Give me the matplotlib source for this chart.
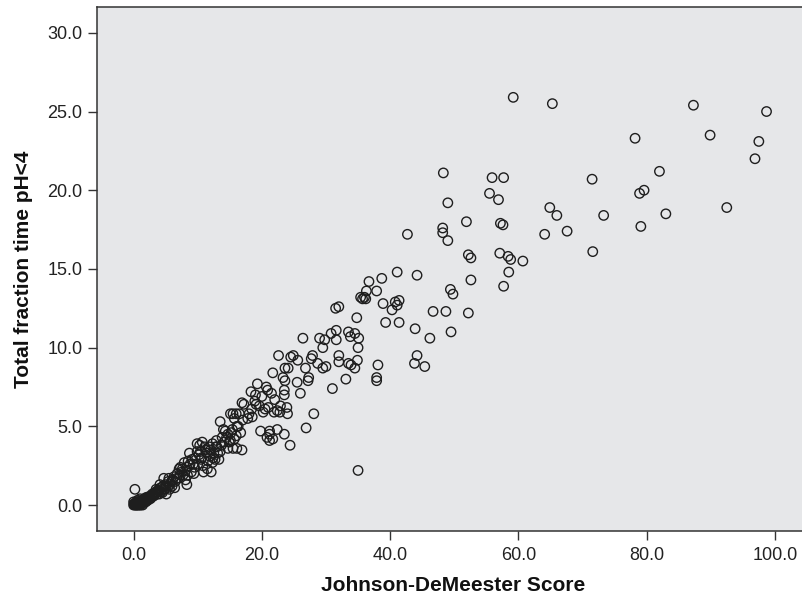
import matplotlib
matplotlib.use("Agg")
import matplotlib.pyplot as plt

plt.rcParams['font.family'] = ['Liberation Sans', 'DejaVu Sans']

# Johnson-DeMeester score vs total fraction time pH<4
jdm_score = [
    59.2, 65.3, 87.3, 98.7, 78.2, 89.9, 97.5, 96.9, 48.3, 55.9, 57.7, 71.5, 82.0,
    55.5, 56.9, 49.0, 78.9, 79.6, 92.5, 64.9, 66.0, 73.3, 83.0, 51.9, 57.2, 57.6,
    67.6, 79.1, 64.1, 42.7, 48.2, 48.2, 49.0, 71.6, 52.2, 52.6, 57.1, 58.4, 58.8,
    60.7, 58.5, 41.1, 44.2, 38.7, 52.6, 36.7, 57.7, 37.9, 36.3, 49.4, 49.8, 35.4,
    35.7, 36.0, 36.2, 41.4, 40.8, 41.1, 38.9, 40.3, 31.5, 32.0, 46.7, 48.7, 52.2,
    34.8, 39.3, 41.4, 43.9, 31.6, 30.8, 33.5, 34.5, 49.5, 26.4, 31.6, 33.8, 35.1,
    46.2, 29.0, 29.8, 29.5, 35.0, 22.6, 24.9, 24.5, 27.9, 32.0, 44.2, 25.6, 27.7,
    32.0, 34.9, 33.5, 33.9, 43.8, 38.1, 45.4, 28.7, 29.5, 30.0, 26.8, 23.6, 34.5,
    21.7, 24.1, 27.3, 33.1, 37.9, 37.9, 23.6, 27.2, 25.5, 23.3, 31.0, 19.3, 20.7,
    20.9, 23.5, 23.5, 26.0, 18.3, 20.0, 22.0, 16.9, 17.2, 19.1, 18.4, 21.0, 22.9,
    23.9, 21.9, 22.4, 22.8, 15.1, 15.5, 16.0, 16.5, 18.0, 20.2, 24.0, 28.1, 17.8,
    15.7, 13.5, 16.3, 26.9, 19.8, 21.2, 22.4, 23.5, 21.2, 20.8, 21.2, 21.7, 24.4,
    35.0, 0.2, 18.9, 19.6, 20.5, 17.0, 18.5, 19.0, 21.5,
    14.3, 14.7, 15.2, 16.1, 15.7, 14.1, 12.9, 12.3, 14.7, 15.5, 16.1, 16.9, 13.5,
    11.9, 12.7, 12.3, 11.5, 10.9, 12.1, 10.3, 9.9, 10.7, 11.1, 9.9, 8.7, 9.1,
    7.9, 8.3, 7.1, 7.5, 8.4, 8.3, 6.3, 5.5, 4.7, 5.1, 5.9, 4.1, 3.5, 5.1, 4.3,
    3.1, 2.3, 13.0, 13.8, 11.4, 10.5, 10.0, 9.5, 9.0, 8.8, 7.7, 7.0, 6.8, 6.5,
    6.0, 5.6, 4.8, 4.5, 4.0, 3.7, 3.3, 2.8, 2.6, 2.0, 1.8, 1.5, 1.2, 1.0, 0.8,
    0.6, 0.4, 0.2, 0.0, 0.1, 0.3, 0.5, 0.7, 0.9, 1.1, 1.3, 1.6, 1.9, 2.2, 2.4,
    1.4, 0.0, 0.6, 1.0, 12.0, 10.2, 14.9, 13.3, 12.5,
    0.1, 0.2, 0.3, 0.4, 0.5, 0.6, 0.7, 0.8, 0.9, 1.0, 1.1, 1.2, 1.3, 1.5, 1.6,
    1.7, 1.8, 2.0, 2.1, 2.3, 2.5, 2.7, 2.9, 3.0, 3.2, 3.4, 3.6, 3.8, 4.0, 4.2,
    4.4, 4.6, 5.0, 5.3, 5.4, 5.7, 6.1, 6.4, 6.7, 7.3, 7.6, 8.1, 8.5, 9.3, 9.6,
    10.4, 10.8, 11.2, 11.8, 12.4, 13.1, 13.7, 14.5, 15.1, 15.4, 16.0, 16.7, 14.0,
    12.8, 11.6, 10.6, 9.4, 8.1, 7.3,
]
frac_time_ph4 = [
    25.9, 25.5, 25.4, 25.0, 23.3, 23.5, 23.1, 22.0, 21.1, 20.8, 20.8, 20.7, 21.2,
    19.8, 19.4, 19.2, 19.8, 20.0, 18.9, 18.9, 18.4, 18.4, 18.5, 18.0, 17.9, 17.8,
    17.4, 17.7, 17.2, 17.2, 17.6, 17.3, 16.8, 16.1, 15.9, 15.7, 16.0, 15.8, 15.6,
    15.5, 14.8, 14.8, 14.6, 14.4, 14.3, 14.2, 13.9, 13.6, 13.6, 13.7, 13.4, 13.2,
    13.1, 13.2, 13.1, 13.0, 12.9, 12.7, 12.8, 12.4, 12.5, 12.6, 12.3, 12.3, 12.2,
    11.9, 11.6, 11.6, 11.2, 11.1, 10.9, 11.0, 10.9, 11.0, 10.6, 10.5, 10.7, 10.6,
    10.6, 10.6, 10.5, 10.0, 10.0, 9.5, 9.5, 9.4, 9.5, 9.5, 9.5, 9.2, 9.3,
    9.1, 9.2, 9.0, 8.9, 9.0, 8.9, 8.8, 9.0, 8.7, 8.8, 8.7, 8.7, 8.7,
    8.4, 8.7, 8.1, 8.0, 8.1, 7.9, 7.9, 7.9, 7.8, 8.1, 7.4, 7.7, 7.5,
    7.3, 7.3, 7.0, 7.1, 7.2, 6.9, 6.7, 6.5, 6.4, 6.4, 6.1, 6.2, 6.3,
    6.2, 5.9, 6.0, 5.9, 5.8, 5.8, 5.8, 5.8, 5.8, 5.9, 5.8, 5.8, 5.5,
    5.5, 5.3, 5.0, 4.9, 4.7, 4.7, 4.8, 4.5, 4.5, 4.3, 4.1, 4.2, 3.8,
    2.2, 1.0, 6.6, 6.3, 6.1, 5.4, 5.6, 7.0, 7.1,
    4.7, 4.5, 4.6, 5.0, 4.2, 4.0, 4.1, 3.9, 3.6, 3.6, 3.6, 3.5, 3.4,
    3.1, 2.9, 2.7, 2.3, 2.1, 2.1, 3.8, 3.9, 4.0, 3.7, 3.4, 3.3, 2.9,
    2.7, 2.4, 2.3, 2.1, 1.9, 1.3, 1.8, 1.7, 1.7, 1.2, 1.5, 1.3, 1.0, 0.7, 0.85,
    0.65, 0.5, 3.7, 4.3, 3.3, 2.9, 2.6, 2.4, 2.1, 2.6, 1.9, 1.7, 2.0, 1.5,
    1.2, 1.0, 1.0, 0.8, 0.9, 0.7, 0.8, 0.6, 0.4, 0.4, 0.3, 0.3, 0.2, 0.1, 0.2,
    0.1, 0.0, 0.0, 0.0, 0.1, 0.1, 0.0, 0.0, 0.0, 0.0, 0.1, 0.2, 0.2, 0.3, 0.5,
    0.0, 0.2, 0.3, 0.4, 3.5, 3.2, 4.0, 2.9, 3.3,
    0.05, 0.1, 0.05, 0.15, 0.1, 0.2, 0.1, 0.05, 0.15, 0.25, 0.15, 0.3, 0.2, 0.15, 0.35,
    0.25, 0.45, 0.3, 0.5, 0.35, 0.55, 0.45, 0.7, 0.55, 0.6, 0.75, 0.85, 0.95, 0.7, 1.1,
    1.0, 1.2, 1.3, 1.1, 1.5, 1.3, 1.6, 1.1, 1.7, 1.9, 2.3, 2.2, 2.8, 2.6, 3.0,
    3.4, 2.5, 3.5, 3.7, 3.0, 3.3, 3.8, 4.3, 4.1, 4.8, 4.4, 4.6, 4.8,
    3.7, 2.8, 3.0, 2.0, 1.6, 2.4,
]

x_ticks = [0, 20, 40, 60, 80, 100]
y_ticks = [0, 5, 10, 15, 20, 25, 30]

fig = plt.figure(figsize=(8.03, 5.98), dpi=100)
ax = fig.add_axes([0.1208, 0.1125, 0.8817, 0.8766])
ax.set_facecolor('#e6e7e9')

ax.scatter(jdm_score, frac_time_ph4, s=46, facecolors='none',
           edgecolors='#1e1e1e', linewidths=1.0, zorder=3)

ax.set_xlim(-5.71, 104.7)
ax.set_ylim(-1.63, 31.67)
ax.set_xticks(x_ticks)
ax.set_xticklabels([f"{v:.1f}" for v in x_ticks])
ax.set_yticks(y_ticks)
ax.set_yticklabels([f"{v:.1f}" for v in y_ticks])
ax.tick_params(axis='both', labelsize=13, length=6.5, width=1.0,
               color='#333333', labelcolor='#222222')
ax.tick_params(axis='x', pad=5)
ax.tick_params(axis='y', pad=4)

for side in ['left', 'bottom', 'top', 'right']:
    ax.spines[side].set_color('#333333')
    ax.spines[side].set_linewidth(1.1)

ax.set_xlabel('Johnson-DeMeester Score', fontsize=15, fontweight='bold', color='#111111')
ax.set_ylabel('Total fraction time pH<4', fontsize=15, fontweight='bold', color='#111111')
ax.xaxis.set_label_coords(0.503, -0.086)
ax.yaxis.set_label_coords(-0.091, 0.499)

fig.savefig('out.png', dpi=100)
